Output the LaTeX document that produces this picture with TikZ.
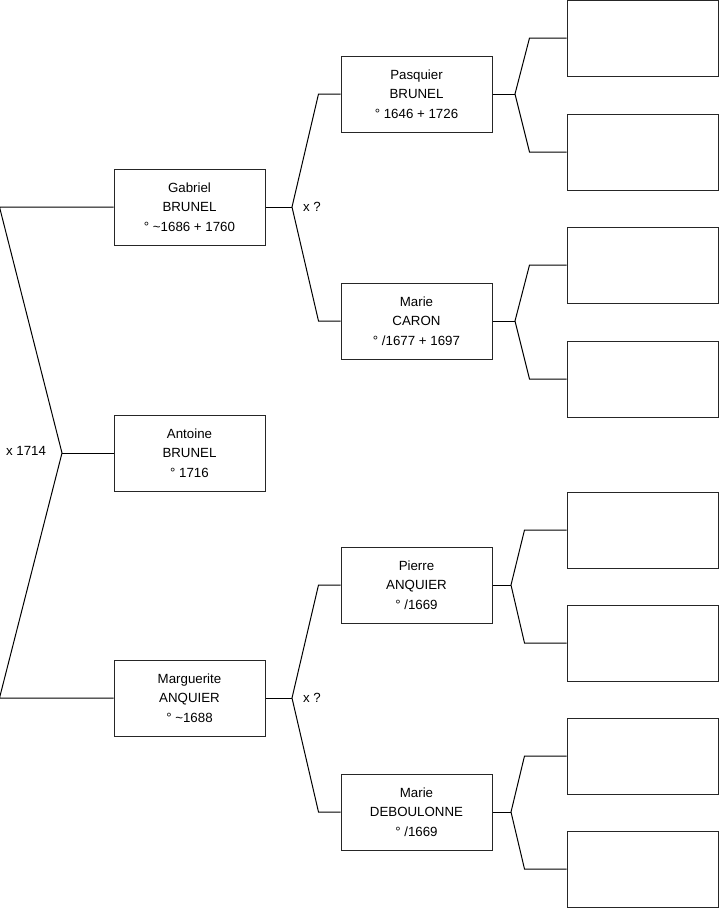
\documentclass[tikz,border=0pt]{standalone}
\usepackage{fontspec}
\setmainfont{Liberation Sans}
\usetikzlibrary{calc}
\tikzset{
    person/.style={draw=black!85, line width=1pt, minimum width=151pt,
                   minimum height=76pt, inner sep=0pt, align=center,
                   font=\fontsize{13.3}{19.6}\selectfont},
    link/.style={line width=1pt, draw=black},
    union/.style={font=\fontsize{13.3}{15}\selectfont},
}
% child anchor, vertex, bend offset, father, mother
\newcommand{\fork}[5]{
    \draw[link] (#4.west) -- ++(-#3,0) -- (#2) -- ($(#5.west)+(-#3,0)$) -- (#5.west);
    \draw[link] (#1) -- (#2);
}

\begin{document}
\begin{tikzpicture}[x=1pt, y=-1pt]
    \useasboundingbox (0,0) rectangle (719,908);

    % generation 1
    \node[person] (gabriel) at (189.5,207) {Gabriel\\BRUNEL\\° \textasciitilde1686 + 1760};
    \node[person] (antoine) at (189.5,453) {Antoine\\BRUNEL\\° 1716};
    \node[person] (marguerite) at (189.5,698) {Marguerite\\ANQUIER\\° \textasciitilde1688};

    % generation 2
    \node[person] (pasquier) at (416.5,94) {Pasquier\\BRUNEL\\° 1646 + 1726};
    \node[person] (caron) at (416.5,321) {Marie\\CARON\\° /1677 + 1697};
    \node[person] (pierre) at (416.5,585) {Pierre\\ANQUIER\\° /1669};
    \node[person] (deboulonne) at (416.5,812) {Marie\\DEBOULONNE\\° /1669};

    % generation 3
    \node[person] (p1) at (642.5,38) {};
    \node[person] (p2) at (642.5,152) {};
    \node[person] (p3) at (642.5,265) {};
    \node[person] (p4) at (642.5,379) {};
    \node[person] (p5) at (642.5,530) {};
    \node[person] (p6) at (642.5,643) {};
    \node[person] (p7) at (642.5,756) {};
    \node[person] (p8) at (642.5,869) {};

    \coordinate (c0) at (62,453);
    \coordinate (c1) at (292,207);
    \coordinate (c2) at (292,698);
    \coordinate (c3) at (515,94);
    \coordinate (c4) at (515,321);
    \coordinate (c5) at (511,585);
    \coordinate (c6) at (511,812);

    \fork{antoine.west}{c0}{114}{gabriel}{marguerite}
    \fork{gabriel.east}{c1}{22}{pasquier}{caron}
    \fork{marguerite.east}{c2}{22}{pierre}{deboulonne}
    \fork{pasquier.east}{c3}{37}{p1}{p2}
    \fork{caron.east}{c4}{37}{p3}{p4}
    \fork{pierre.east}{c5}{42}{p5}{p6}
    \fork{deboulonne.east}{c6}{42}{p7}{p8}

    \node[union] (m0) at (26,451) {x 1714};
    \node[union] (m1) at (312,207) {x ?};
    \node[union] (m2) at (312,698) {x ?};

\end{tikzpicture}
\end{document}
